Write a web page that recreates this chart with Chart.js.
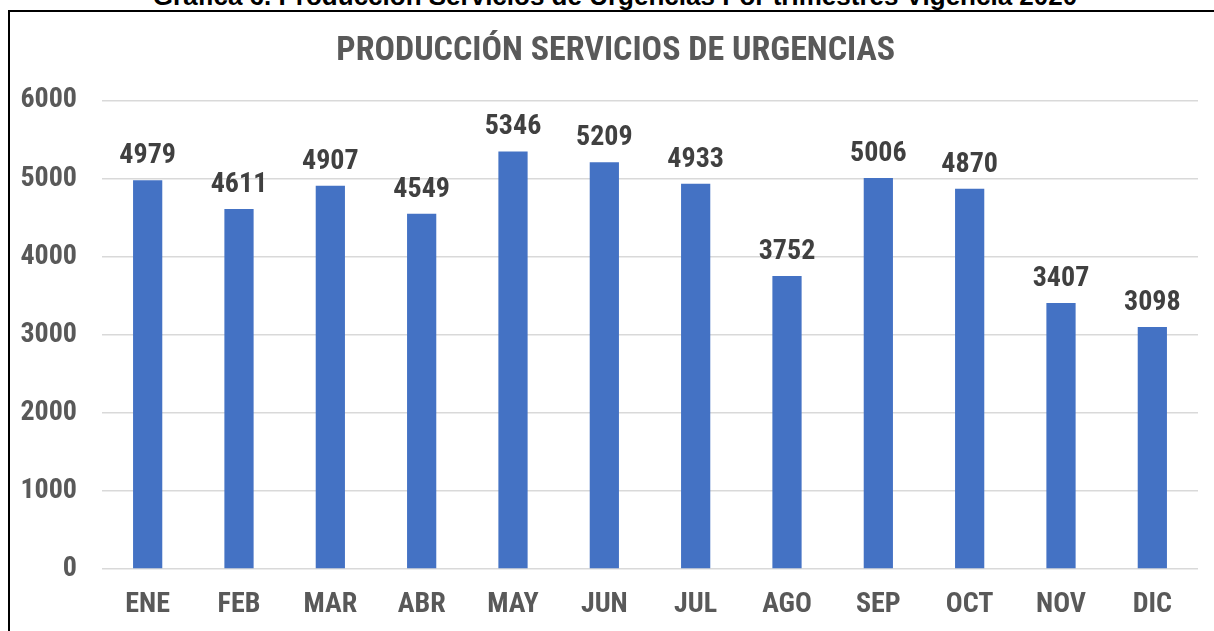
<!DOCTYPE html>
<html>
<head>
<meta charset="utf-8">
<script src="https://cdn.jsdelivr.net/npm/chart.js@4.4.0/dist/chart.umd.min.js"></script>
<style>
  body { margin:0; background:#fff; width:1214px; height:631px; overflow:hidden; position:relative; }
  #caption { position:absolute; left:0; width:1230px; top:-19px; text-align:center;
             font:bold 26px "Liberation Sans", Arial, sans-serif; color:#000; white-space:nowrap; }
  #box { position:absolute; left:8px; top:10px; width:1206px; height:621px;
         border-left:2px solid #000; border-top:2px solid #000; box-sizing:border-box; }
  #wrap { position:absolute; left:0; top:0; width:1204px; height:619px; }
</style>
</head>
<body>
<div id="caption">Gráfica 6. Producción Servicios de Urgencias Por trimestres Vigencia 2020</div>
<div id="box"><div id="wrap"><canvas id="myChart"></canvas></div></div>
<script>
const meses = ['ENE','FEB','MAR','ABR','MAY','JUN','JUL','AGO','SEP','OCT','NOV','DIC'];
const urgencias = [4979, 4611, 4907, 4549, 5346, 5209, 4933, 3752, 5006, 4870, 3407, 3098];
const yTicks = [0, 1000, 2000, 3000, 4000, 5000, 6000];

const fuente = '"Liberation Sans Narrow", "Roboto Condensed", Roboto, sans-serif';

// etiquetas de valor encima de cada barra
const etiquetas = {
  id: 'etiquetas',
  afterDatasetsDraw(chart) {
    const ctx = chart.ctx;
    const meta = chart.getDatasetMeta(0);
    ctx.save();
    ctx.font = 'bold 28px ' + fuente;
    ctx.fillStyle = '#404040';
    ctx.textAlign = 'center';
    ctx.textBaseline = 'alphabetic';
    meta.data.forEach(function(bar, i) {
      ctx.fillText(urgencias[i], bar.x, bar.y - 17);
    });
    ctx.restore();
  }
};

const ctx = document.getElementById('myChart').getContext('2d');
const myChart = new Chart(ctx, {
  type: 'bar',
  data: {
    labels: meses,
    datasets: [{
      label: 'Urgencias',
      data: urgencias,
      backgroundColor: '#4472C4',
      barPercentage: 0.64,
      categoryPercentage: 0.5
    }]
  },
  options: {
    responsive: true,
    maintainAspectRatio: false,
    animation: false,
    layout: { padding: { left: 0, right: 16, top: 0, bottom: 0 } },
    scales: {
      x: {
        grid: { display: false, drawTicks: false },
        border: { display: false },
        ticks: { color: '#595959', font: { family: fuente, size: 28, weight: 'bold' }, padding: 19 },
        afterFit: function(s) { s.height = 62; }
      },
      y: {
        min: 0,
        max: 6000,
        afterBuildTicks: function(s) { s.ticks = yTicks.map(v => ({ value: v })); },
        grid: { color: '#D9D9D9', lineWidth: 1.5, drawTicks: false },
        border: { display: false },
        ticks: {
          color: '#595959',
          font: { family: fuente, size: 28, weight: 'bold' },
          padding: 25,
          callback: function(v) { return String(v); }
        },
        afterFit: function(s) { s.width = 92; }
      }
    },
    plugins: {
      title: {
        display: true,
        text: '\u00A0\u00A0\u00A0PRODUCCIÓN SERVICIOS DE URGENCIAS',
        color: '#595959',
        font: { family: fuente, size: 34, weight: 'bold' },
        padding: { top: 19, bottom: 28.6 }
      },
      legend: { display: false },
      tooltip: { enabled: false }
    }
  },
  plugins: [etiquetas]
});
</script>
</body>
</html>
